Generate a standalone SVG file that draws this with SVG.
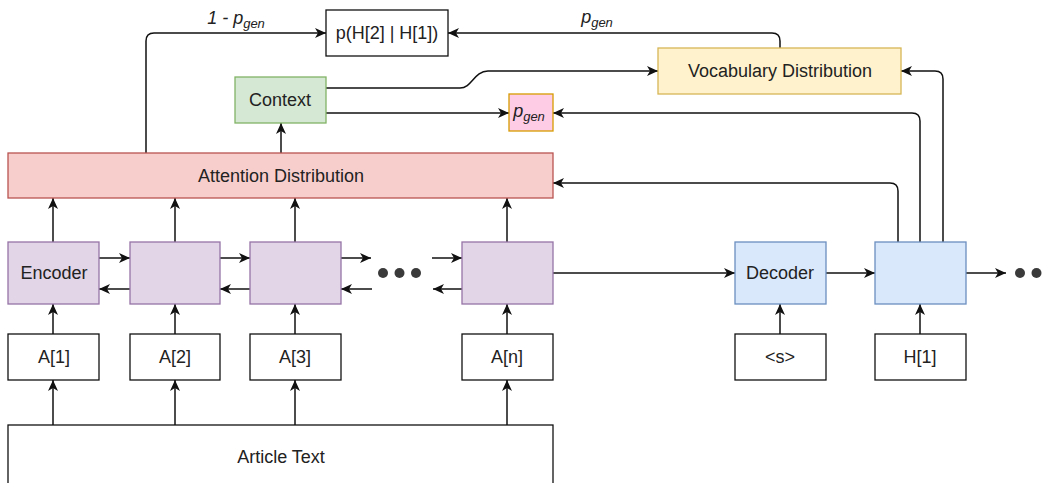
<svg xmlns="http://www.w3.org/2000/svg" width="1047" height="483" viewBox="0 0 1047 483">
<defs>
<marker id="arr" markerUnits="userSpaceOnUse" markerWidth="12" markerHeight="10" viewBox="0 0 12 10" refX="11" refY="5" orient="auto">
<path d="M0,0 L11,5 L0,10 L3,5 Z" fill="#111"/>
</marker>
<style>
.box{stroke-width:1.3}
.plain{fill:#fff;stroke:#111}
.enc{fill:#e1d5e7;stroke:#9673a6}
.dec{fill:#dae8fc;stroke:#6c8ebf}
.att{fill:#f8cecc;stroke:#b85450}
.ctx{fill:#d5e8d4;stroke:#82b366}
.voc{fill:#fff2cc;stroke:#d6b656}
.pg{fill:#ffcce6;stroke:#d79b00}
text{font-family:"Liberation Sans",Arial,sans-serif;font-size:18px;fill:#222;text-anchor:middle}
.it{font-style:italic}
#connectors path{fill:none;stroke:#111;stroke-width:1.5;marker-end:url(#arr)}
.dot{fill:#3a3a3a}
</style>
</defs>
<g id="connectors">
<path d="M146,153 V41 Q146,33 154,33 H326"/>
<path d="M780,48 V41 Q780,33 772,33 H448"/>
<path d="M326,88 H460 C472,88 474,71 488,71 H658"/>
<path d="M326,113 H509"/>
<path d="M920,242 V121 Q920,113 912,113 H553"/>
<path d="M943,242 V79 Q943,71 935,71 H901"/>
<path d="M898,242 V191 Q898,183 890,183 H553"/>
<path d="M281,153 V123"/>
<path d="M53,242 V198"/>
<path d="M175,242 V198"/>
<path d="M295,242 V198"/>
<path d="M507,242 V198"/>
<path d="M99,258 H130"/>
<path d="M130,289 H99"/>
<path d="M220,258 H250"/>
<path d="M250,289 H220"/>
<path d="M341,258 H371"/>
<path d="M372,289 H341"/>
<path d="M432,258 H462"/>
<path d="M462,289 H433"/>
<path d="M553,273 H735"/>
<path d="M826,273 H875"/>
<path d="M966,273 H1006"/>
<path d="M53,334 V304"/>
<path d="M175,334 V304"/>
<path d="M295,334 V304"/>
<path d="M507,334 V304"/>
<path d="M780,334 V304"/>
<path d="M920,334 V304"/>
<path d="M53,425 V380"/>
<path d="M175,425 V380"/>
<path d="M295,425 V380"/>
<path d="M507,425 V380"/>
</g>
<g id="dots-enc">
<circle class="dot" cx="383" cy="273" r="5"/>
<circle class="dot" cx="399.5" cy="273" r="5"/>
<circle class="dot" cx="416" cy="273" r="5"/>
</g>
<g id="dots-dec">
<circle class="dot" cx="1020" cy="273" r="5"/>
<circle class="dot" cx="1036.5" cy="273" r="5"/>
<circle class="dot" cx="1053" cy="273" r="5"/>
</g>
<g id="label-1-pgen"><text x="236" y="24" class="it">1 - p<tspan font-size="13" dy="4">gen</tspan></text></g>
<g id="label-pgen"><text x="597" y="23" class="it">p<tspan font-size="13" dy="4">gen</tspan></text></g>
<g id="n-phh"><rect class="box plain" x="326" y="10" width="122" height="46"/><text x="387" y="39">p(H[2] | H[1])</text></g>
<g id="n-vocab"><rect class="box voc" x="658" y="48" width="243" height="46"/><text x="780" y="77">Vocabulary Distribution</text></g>
<g id="n-context"><rect class="box ctx" x="235" y="77" width="91" height="46"/><text x="280" y="106">Context</text></g>
<g id="n-pgen"><rect class="box pg" x="509" y="94" width="44" height="37"/><text x="529" y="117" class="it">p<tspan font-size="13" dy="4">gen</tspan></text></g>
<g id="n-attention"><rect class="box att" x="8" y="153" width="545" height="45"/><text x="281" y="182">Attention Distribution</text></g>
<g id="n-enc1"><rect class="box enc" x="8" y="242" width="91" height="62"/><text x="54" y="279">Encoder</text></g>
<g id="n-enc2"><rect class="box enc" x="130" y="242" width="90" height="62"/></g>
<g id="n-enc3"><rect class="box enc" x="250" y="242" width="91" height="62"/></g>
<g id="n-encn"><rect class="box enc" x="462" y="242" width="91" height="62"/></g>
<g id="n-dec1"><rect class="box dec" x="735" y="242" width="91" height="62"/><text x="780" y="279">Decoder</text></g>
<g id="n-dec2"><rect class="box dec" x="875" y="242" width="91" height="62"/></g>
<g id="n-a1"><rect class="box plain" x="8" y="334" width="91" height="46"/><text x="54" y="363">A[1]</text></g>
<g id="n-a2"><rect class="box plain" x="130" y="334" width="90" height="46"/><text x="175" y="363">A[2]</text></g>
<g id="n-a3"><rect class="box plain" x="250" y="334" width="91" height="46"/><text x="295" y="363">A[3]</text></g>
<g id="n-an"><rect class="box plain" x="462" y="334" width="91" height="46"/><text x="507" y="363">A[n]</text></g>
<g id="n-s"><rect class="box plain" x="735" y="334" width="91" height="46"/><text x="780" y="363">&lt;s&gt;</text></g>
<g id="n-h1"><rect class="box plain" x="875" y="334" width="91" height="46"/><text x="920" y="363">H[1]</text></g>
<g id="n-article"><rect class="box plain" x="8" y="425" width="545" height="80"/><text x="281" y="463">Article Text</text></g>
</svg>
